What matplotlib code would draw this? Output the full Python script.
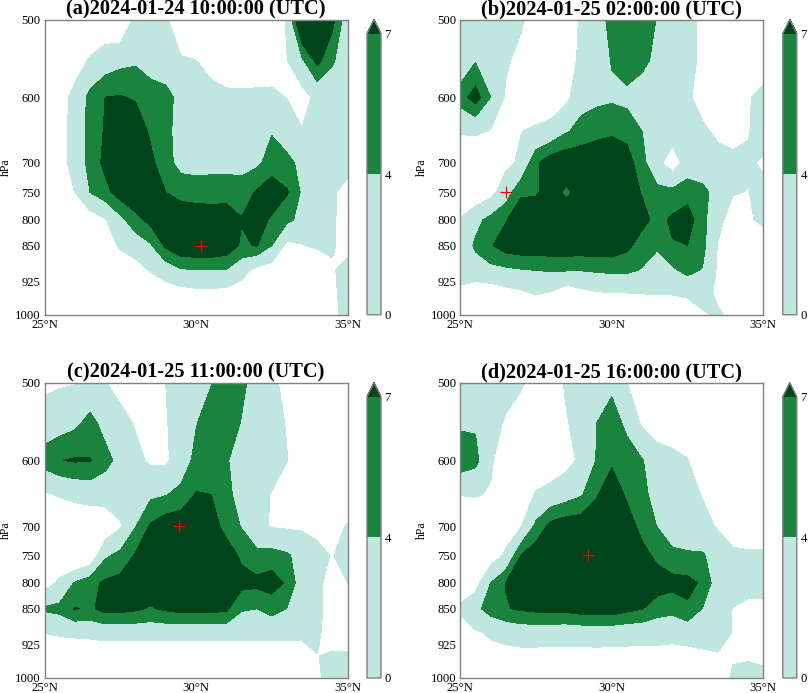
import numpy as np
import matplotlib
matplotlib.use('Agg')
import matplotlib.pyplot as plt

plt.rcParams['font.family'] = ['Liberation Serif', 'DejaVu Serif']

lats = [25, 25.5, 26, 26.5, 27, 27.5, 28, 28.5, 29, 29.5, 30, 30.5, 31, 31.5, 32, 32.5, 33, 33.5, 34, 34.5, 35]
plevs = [500, 550, 600, 650, 700, 750, 800, 850, 900, 950, 1000]

# values, one row per pressure level
field_a = [
    [-3, -3, -3, -3, -3, -4, 1, 2, .5, -2.3, -3, -3, -3, -3, -3, -3, .4, 12, 11, 8, 1.8],
    [-3, -3, -1.5, .3, 2, 3, 3.5, 2.5, 2, .3, 0, -1, -2, -2, -2, -2, -.1, 3.5, 8, 4.5, 1.5],
    [-4, -1.5, 1, 5, 7, 7.2, 6.7, 5.5, 5, 3, 2, 1, .7, .6, .7, .8, -.1, -1.5, 1, 1.5, 1.5],
    [-4, -1.5, 1.5, 5, 7.3, 9, 9, 6.5, 5, 2.5, 2, 2, 2, 2, 2.5, 3.8, 2, .2, 1.5, 1.5, 1.5],
    [-4, -1.5, 1.5, 5, 7.8, 9, 9.5, 7.8, 5, 3, 3, 3, 3, 3, 3.3, 5.3, 5, 3, 2, 1.5, 1],
    [-4, -2, 0, 4, 6, 8.5, 9.5, 9, 7, 5.8, 5.3, 5.5, 5.6, 5.3, 7.3, 9, 7.3, 3.5, 2, .4, -1],
    [-4, -4, -3, -2, -.3, 3, 6, 8, 9, 9.5, 9.5, 9, 9, 7.2, 8.5, 6.5, 4.8, 3, 2, .3, -1],
    [-4, -4, -4, -3, -2, .5, 1.8, 3.6, 7.6, 9.5, 9.8, 9.8, 9, 6.5, 7.2, 4, -1, -.2, .5, .3, -1],
    [-4, -4, -4, -4, -3, -2.5, -1.5, .3, 2, 3.7, 3.9, 3.9, 3.9, 1.5, -1, -2, -3, -3, -3, -.3, 1],
    [-4, -4, -4, -4, -4, -4, -4, -3, -2, -1.5, -1, -1, -1.2, -2, -3, -3, -3, -3, -3, -.5, 1],
    [-4, -4, -4, -4, -4, -4, -4, -4, -4, -4, -4, -4, -4, -4, -4, -4, -4, -4, -4, -.8, 1],
]
field_b = [
    [2, 1, 1, 1, .5, -1.5, -2, -2, .5, 2.5, 5, 6, 6, 3.8, 2.5, 1.5, -.9, -2, -2, -2, -2],
    [1.5, 3.7, 1.7, .5, -1, -2.5, -3, -1, .5, 2, 4.2, 6, 5, 3, 2, 1.5, -1, -3, -3, -3, -3],
    [5.5, 8.5, 4, -.5, -2, -2.5, -2.5, -1, 2.9, 3.2, 3.45, 3, 2, 1.5, 1.5, .6, -1.5, -3, -3, -.4, 1.5],
    [.3, .5, -.2, -2, -.1, .6, 1.5, 3.7, 5, 6, 6.5, 6, 4, 3, 2, 1.5, .7, -.8, -2, -.2, 1.5],
    [-3, -3, -2.5, -1, .7, 6.5, 9, 9.5, 9.5, 9.5, 9.5, 8.5, 5, 1.2, -2.2, 1.9, 1.5, 1.5, 1.5, .5, -.5],
    [-3, -3, -1.2, 2.2, 6.5, 6.6, 8.5, 6.3, 8.5, 9.5, 9.5, 8.5, 6.8, 5, 5, 5.8, 5, 2.5, .2, -.1, 1],
    [.3, 3, 5, 6.8, 9, 9.5, 9.5, 9.5, 9.5, 9.5, 9.5, 9.5, 8, 6, 7.5, 8.5, 5, 1, -1.5, -.6, 1],
    [1.5, 4.5, 6.7, 8.5, 9, 9, 9, 9, 9, 9, 9, 7.8, 5.5, 4.5, 6.8, 7, 5, -.2, -2, -3, -3],
    [2.5, 2.5, 3, 3.4, 3.8, 4.1, 4.3, 4.3, 4.2, 4.5, 4.7, 4.7, 3.8, 2, 3.5, 5, 3.8, -.5, -3, -3, -3],
    [-1.3, -2.5, -2.2, -1.3, -.6, .3, -.3, -2.3, -1, -.3, 0, 0, .1, .3, .3, .9, 1, -.5, -1, -3, -3],
    [-3, -3, -3, -3, -3, -3, -3, -3, -3, -3, -3, -3, -3, -3, -3, -3, -.3, .3, -.5, -3, -3],
]
field_c = [
    [-.9, -.4, -.2, 1.5, .2, -1.5, -2, -1.5, 0, 1.7, 2.7, 3.8, 5.5, 4.8, 2.5, .8, -1, -2, -2, -2, -2],
    [2, 2.5, 3.3, 5, 3, 1.5, -.3, -2, -.3, 1.8, 3.8, 6, 6, 3.8, 2.5, 1.2, -.2, -2, -2, -2, -2],
    [5.5, 6.9, 7.3, 7.2, 5, 3, 1, -.6, -.6, 1.8, 5, 6, 4.2, 3, 2.5, 1.5, .1, -2, -2, -2, -2],
    [-.5, .3, 1, 1.5, 1.8, 2.2, 2.6, 3.3, 3.8, 5, 7.2, 7, 5, 2.5, 1.5, -.2, -2, -2, -2, -2, -2],
    [-3, -3, -3, -3, -3, -.5, 3.8, 7.4, 9, 9, 9.5, 8.3, 6, 3.8, 1, -.3, -.5, -.5, -1, -1, .2],
    [-3, -3, -5, -3.3, 3.4, 5, 7.3, 9, 9.5, 9.5, 9.5, 9.5, 8.5, 6.5, 5, 5.3, 4.5, 2.5, 1, -.2, 1.5],
    [-1.75, .7, 4.3, 6.1, 7.5, 8, 8.5, 9, 9.5, 9.5, 9.5, 9.5, 9, 8, 7.8, 8.5, 6.5, 2, .6, -1, 0],
    [4.5, 5, 7.2, 6.5, 8, 8, 7.5, 6.7, 7.5, 8, 8, 8, 7.6, 4.3, 4, 5, 3.9, 2, .6, -1, -1],
    [0, .5, .8, 1, 1.5, 1.5, 1.5, 1.5, 1.5, 1.5, 1.5, 1.5, 1.5, 1.5, 1.5, 1.5, 1.5, 1.4, .7, -2, -2],
    [-3, -3, -3, -3, -3, -3, -3, -3, -3, -3, -3, -3, -3, -3, -3, -3, -3, -3, -.1, .6, .5],
    [-3, -3, -3, -3, -3, -3, -3, -3, -3, -3, -3, -3, -3, -3, -3, -3, -3, -3, -.6, 1.5, 1.5],
]
field_d = [
    [1.5, 1.5, 1.5, 1.5, .5, -1.3, -2, .5, 1.5, 2.5, 3, .1, -2, -2, -2, -2, -2, -2, -2, -2, -2],
    [3.5, 3.6, 1.5, -.5, -2, -2, -2, -.3, 1.5, 4, 6, 3, -.5, -2, -2, -2, -2, -2, -2, -2, -2],
    [6, 5, .5, -2, -2.5, -2.5, -2.5, -1.2, .8, 4.2, 6.5, 6, 4.2, 2, 1, .1, -2, -2, -2, -2, -2],
    [.1, .3, -.3, -2, -2, .3, 1.5, 2.5, 3.7, 6.7, 9, 6.5, 4.8, 2.8, 2, 1.2, -.2, -2, -2, -2, -2],
    [-3, -3, -2.5, -1.5, -.3, 4.8, 8, 9, 9, 9, 9.5, 8.5, 6, 3.9, 1.5, 1.5, 1, -.3, -1.5, -2, -2],
    [-3, -3, -2, .5, 7, 9, 9.5, 9.5, 9.5, 9.5, 9.5, 9.5, 8, 6.3, 5, 4.5, 4.4, 2, .6, .5, .5],
    [-2, -1.5, 4, 7.1, 9, 9.5, 9.5, 9.5, 9.5, 9.5, 9.5, 9.5, 9, 8.5, 8, 7.9, 6.5, 2, 1.5, 1.5, 1.5],
    [.5, 3, 5.5, 6.8, 7.4, 7.8, 8, 8, 8.5, 8.7, 8.7, 7.8, 7.1, 5.5, 5, 6.5, 3.8, 1.5, -.1, -1, -1],
    [-1.5, -.5, .4, 1.2, 1.8, 1.8, 1.6, 1.5, 1.7, 1.8, 1.7, 1.5, 1.4, 1.3, 1, 1.5, 2, 1.8, -.2, -2, -2],
    [-3, -3, -1, -1.2, -1.2, -1.2, -1.2, -1.2, -1.2, -1.2, -1.2, -1.2, -1.2, -1.2, -1.2, -1.2, -.9, -.4, -.5, -.5, -.8],
    [-3, -3, -3, -3, -3, -3, -3, -3, -3, -3, -3, -3, -3, -3, -3, -3, -3, -3, .8, 1.5, 1],
]

titles = ['(a)2024-01-24 10:00:00 (UTC)', '(b)2024-01-25 02:00:00 (UTC)',
          '(c)2024-01-25 11:00:00 (UTC)', '(d)2024-01-25 16:00:00 (UTC)']
cross_lat = [30.18, 26.5, 29.45, 29.2]
cross_p = [850, 750, 700, 750]
fields = [field_a, field_b, field_c, field_d]

W, H = 809, 693
# pixel boxes of the panels: left, top
lefts = [44.5, 460.3, 44.5, 460.3]
tops = [19.5, 19.5, 382.7, 382.7]
pw, ph = 303, 295.3

fig = plt.figure(figsize=(W / 100, H / 100), dpi=100)
clr = ['#bfe6df', '#1a843e', '#00441b']
grey = '#808080'

for i in range(4):
    l, t = lefts[i], tops[i]
    ax = fig.add_axes([l / W, 1 - (t + ph) / H, pw / W, ph / H])
    cf = ax.contourf(lats, plevs, np.array(fields[i]), levels=[0, 4, 7], colors=clr, extend='max')
    ax.plot(cross_lat[i], cross_p[i], '+', color='red', ms=8.6, mew=0.9)
    ax.set_yscale('log')
    ax.set_ylim(1000, 500)
    ax.set_xlim(25, 35)
    ax.set_yticks([500, 600, 700, 750, 800, 850, 925, 1000])
    ax.set_yticklabels(['500', '600', '700', '750', '800', '850', '925', '1000'])
    ax.minorticks_off()
    ax.set_xticks([25, 30, 35])
    ax.set_xticklabels(['25°N', '30°N', '35°N'])
    ax.tick_params(length=0, labelsize=9.2, pad=3)
    ax.set_ylabel('hPa', fontsize=8.5)
    ax.yaxis.set_label_coords(-0.108, 0.5)
    for s in ax.spines.values():
        s.set_color(grey)
        s.set_linewidth(1)
    ax.set_title(titles[i], fontsize=14.7, fontweight='bold', pad=1)

    cax = fig.add_axes([(l + 322.5) / W, 1 - (t + ph) / H, 14 / W, ph / H])
    cb = fig.colorbar(cf, cax=cax, ticks=[0, 4, 7], extendfrac=0.05)
    cb.ax.tick_params(length=0, labelsize=9.2, pad=2.5)
    cb.outline.set_edgecolor(grey)
    cb.outline.set_linewidth(1)

fig.savefig('out.png', dpi=100)
